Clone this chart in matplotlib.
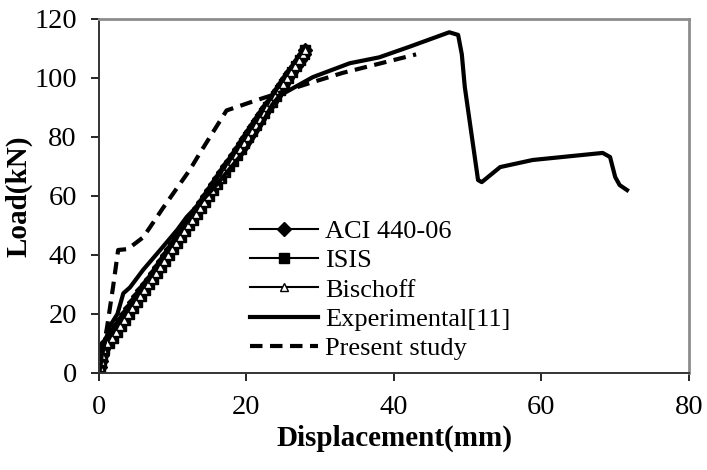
import matplotlib
matplotlib.use("Agg")
import matplotlib.pyplot as plt

plt.rcParams["font.family"] = ["Liberation Serif", "DejaVu Serif"]

# theoretical predictions (load steps shared by all three codes)
loads = [0, 2, 4, 6, 8, 10, 12, 14, 16, 18, 20, 22, 24, 26, 28, 30, 32, 34, 36, 38,
         40, 42, 44, 46, 48, 50, 52, 54, 56, 58, 60, 62, 64, 66, 68, 70, 72, 74, 76, 78,
         80, 82, 84, 86, 88, 90, 92, 94, 96, 98, 100, 102, 104, 106, 108, 109.5]
aci_disp = [0, 0.12, 0.25, 0.38, 0.5, 0.95, 1.45, 2.0, 2.58, 3.14, 3.7, 4.25, 4.8, 5.35,
            5.9, 6.45, 7.0, 7.55, 8.1, 8.65, 9.2, 9.74, 10.29, 10.84, 11.38, 11.93, 12.48,
            13.02, 13.57, 14.11, 14.66, 15.2, 15.75, 16.29, 16.84, 17.38, 17.93, 18.47,
            19.02, 19.56, 20.11, 20.65, 21.2, 21.74, 22.29, 22.83, 23.38, 23.92, 24.47,
            25.01, 25.56, 26.1, 26.65, 27.19, 27.74, 28.0]
isis_disp = [0, 0.13, 0.27, 0.42, 0.62, 1.3, 1.9, 2.45, 3.0, 3.53, 4.07, 4.61, 5.16, 5.7,
             6.25, 6.79, 7.33, 7.87, 8.41, 8.95, 9.49, 10.03, 10.57, 11.11, 11.65, 12.19,
             12.73, 13.27, 13.81, 14.35, 14.89, 15.43, 15.97, 16.51, 17.05, 17.59, 18.13,
             18.66, 19.2, 19.73, 20.27, 20.8, 21.34, 21.88, 22.42, 22.95, 23.49, 24.02,
             24.56, 25.1, 25.63, 26.17, 26.7, 27.24, 27.78, 28.0]
bischoff_disp = [0, 0.12, 0.26, 0.4, 0.56, 1.15, 1.72, 2.28, 2.83, 3.37, 3.91, 4.45, 5.0,
                 5.54, 6.08, 6.62, 7.16, 7.7, 8.25, 8.79, 9.33, 9.87, 10.41, 10.95, 11.5,
                 12.04, 12.58, 13.12, 13.66, 14.2, 14.74, 15.29, 15.83, 16.37, 16.91, 17.45,
                 17.99, 18.53, 19.07, 19.61, 20.15, 20.69, 21.23, 21.77, 22.31, 22.85, 23.39,
                 23.93, 24.47, 25.01, 25.55, 26.09, 26.63, 27.17, 27.71, 28.0]

# experimental curve [11]
exp_disp = [0, 0.5, 1.5, 2.5, 3.3, 4.2, 6.0, 8.3, 10.6, 11.9, 13.7, 16.0, 18.0, 20.0,
            22.0, 23.5, 24.5, 25.2, 29.0, 34.0, 38.0, 42.0, 47.5, 48.7, 49.2, 49.6, 51.4,
            51.9, 54.4, 58.8, 68.3, 69.3, 70.0, 70.6, 71.6]
exp_load = [0, 8, 16, 20, 27, 29, 35, 41.7, 48.5, 52.9, 57.6, 64, 70, 76, 84, 91, 94,
            95, 100.3, 105, 107, 110.5, 115.5, 114.6, 108, 97, 65.4, 64.7, 69.8, 72.2,
            74.6, 73.2, 66.4, 63.7, 62]

# present study (FE)
fe_disp = [0, 1.1, 1.9, 2.6, 3.9, 6.0, 8.7, 12.3, 13.7, 17.3, 21.4, 24.5, 28.6, 33.0, 43.0]
fe_load = [0, 15.6, 29, 41.7, 42, 46, 56, 68.8, 74.6, 89, 92.5, 95, 98.3, 101.7, 108]

fig = plt.figure(figsize=(7.07, 4.70), dpi=100)
ax = fig.add_axes([0.14, 0.2064, 0.8345, 0.7532])

ax.plot(aci_disp, loads, "-", color="black", lw=1.5, marker="D", ms=7.5,
        mfc="black", mec="black", label="ACI 440-06")
ax.plot(isis_disp, loads, "-", color="black", lw=1.5, marker="s", ms=6.5,
        mfc="black", mec="black", label="ISIS")
ax.plot(bischoff_disp, loads, "-", color="black", lw=1.5, marker="^", ms=5.5,
        mfc="white", mec="black", mew=1.0, label="Bischoff")
ax.plot(exp_disp, exp_load, "-", color="black", lw=3, label="Experimental[11]")
ax.plot(fe_disp, fe_load, "--", color="black", lw=3, dashes=(3, 1.8),
        label="Present study")

ax.set_xlim(0, 80)
ax.set_ylim(0, 120)
ax.set_xticks([0, 20, 40, 60, 80])
ax.set_yticks([0, 20, 40, 60, 80, 100, 120])
ax.tick_params(direction="out", length=6, width=1.2, labelsize=20.5, pad=10,
               top=False, right=False)

for side in ["left", "bottom"]:
    ax.spines[side].set_color("#333333")
    ax.spines[side].set_linewidth(1.4)
for side in ["top", "right"]:
    ax.spines[side].set_color("#8c8c8c")
    ax.spines[side].set_linewidth(2)

ax.set_xlabel("Displacement(mm)", fontsize=21, fontweight="bold", labelpad=3)
ax.set_ylabel("Load(kN)", fontsize=21, fontweight="bold", labelpad=1.5)

ax.legend(loc="upper left", bbox_to_anchor=(0.353, 0.533), bbox_transform=fig.transFigure,
          frameon=False, fontsize=19, handlelength=2.6, handletextpad=0.26,
          labelspacing=0.22, borderpad=0, borderaxespad=0)

fig.savefig("out.png", dpi=100)
